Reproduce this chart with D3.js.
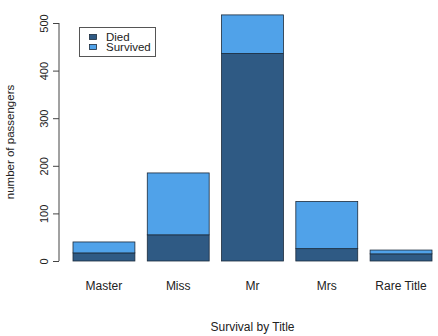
<!DOCTYPE html>
<html><head><meta charset="utf-8">
<script src="https://cdn.jsdelivr.net/npm/d3@7"></script>
<style>body{margin:0;background:#fff}svg{display:block}text{font-family:"Liberation Sans",Arial,Helvetica,sans-serif;fill:#222}</style>
</head><body><svg id="c" width="438" height="336"></svg>
<script>
const categories = ["Master", "Miss", "Mr", "Mrs", "Rare Title"];
const died = [17, 55, 436, 26, 15];
const survived = [23, 130, 81, 99, 8];
const yTicks = [0, 100, 200, 300, 400, 500];
const seriesNames = ["Died", "Survived"];
const colors = ["#2f5a84", "#50a2e9"];

const svg = d3.select("#c");
// R barplot positions: width 1, space 0.2
const left = categories.map((d, i) => 0.2 + i * 1.2);
const x = d3.scaleLinear().domain([0.2, 6.0]).range([73, 432]);
const y = d3.scaleLinear().domain([0, 500]).range([261, 23]);

const rows = categories.map((c, i) => ({c, Died: died[i], Survived: survived[i]}));
const stack = d3.stack().keys(seriesNames)(rows);

stack.forEach((s, si) => {
  svg.append("g").selectAll("rect").data(s).join("rect")
    .attr("x", (d, i) => x(left[i]))
    .attr("width", (d, i) => x(left[i] + 1) - x(left[i]))
    .attr("y", d => y(d[1]))
    .attr("height", d => y(d[0]) - y(d[1]))
    .attr("fill", colors[si])
    .attr("stroke", "#1b2b3c")
    .attr("stroke-width", 0.8);
});

// y axis
const ya = svg.append("g").attr("transform", "translate(59,0)")
  .call(d3.axisLeft(y).tickValues(yTicks).tickSize(7).tickPadding(4));
ya.select(".domain").attr("stroke", "#444").attr("d", `M0,${y(0)}V${y(500)}`);
ya.selectAll(".tick line").attr("stroke", "#444").attr("x2", -6);
ya.selectAll(".tick text")
  .attr("font-size", 11).attr("fill", "#222")
  .attr("transform", "rotate(-90)")
  .attr("x", 0).attr("y", -11).attr("dy", 0)
  .attr("text-anchor", "middle")
  .attr("font-family", '"Liberation Sans",Arial,sans-serif');

// category labels
svg.append("g").selectAll("text").data(categories).join("text")
  .attr("x", (d, i) => x(left[i] + 0.5))
  .attr("y", 290)
  .attr("text-anchor", "middle")
  .attr("font-size", 12)
  .text(d => d);

// axis titles
svg.append("text").attr("x", (x(0.2) + x(6.0)) / 2).attr("y", 331)
  .attr("text-anchor", "middle").attr("font-size", 12).text("Survival by Title");
svg.append("text").attr("transform", `translate(14,${(y(0) + y(500)) / 2}) rotate(-90)`)
  .attr("text-anchor", "middle").attr("font-size", 11.5).text("number of passengers");

// legend
const lg = svg.append("g");
lg.append("rect").attr("x", 79.5).attr("y", 27.5).attr("width", 76).attr("height", 29)
  .attr("fill", "#fff").attr("stroke", "#555").attr("stroke-width", 1);
seriesNames.forEach((n, i) => {
  lg.append("rect").attr("x", 89.5).attr("y", 34.5 + i * 10).attr("width", 7).attr("height", 5)
    .attr("fill", colors[i]).attr("stroke", "#1b2b3c").attr("stroke-width", 0.8);
  lg.append("text").attr("x", 106).attr("y", 40.5 + i * 10.5).attr("font-size", 11.5).text(n);
});
</script></body></html>
